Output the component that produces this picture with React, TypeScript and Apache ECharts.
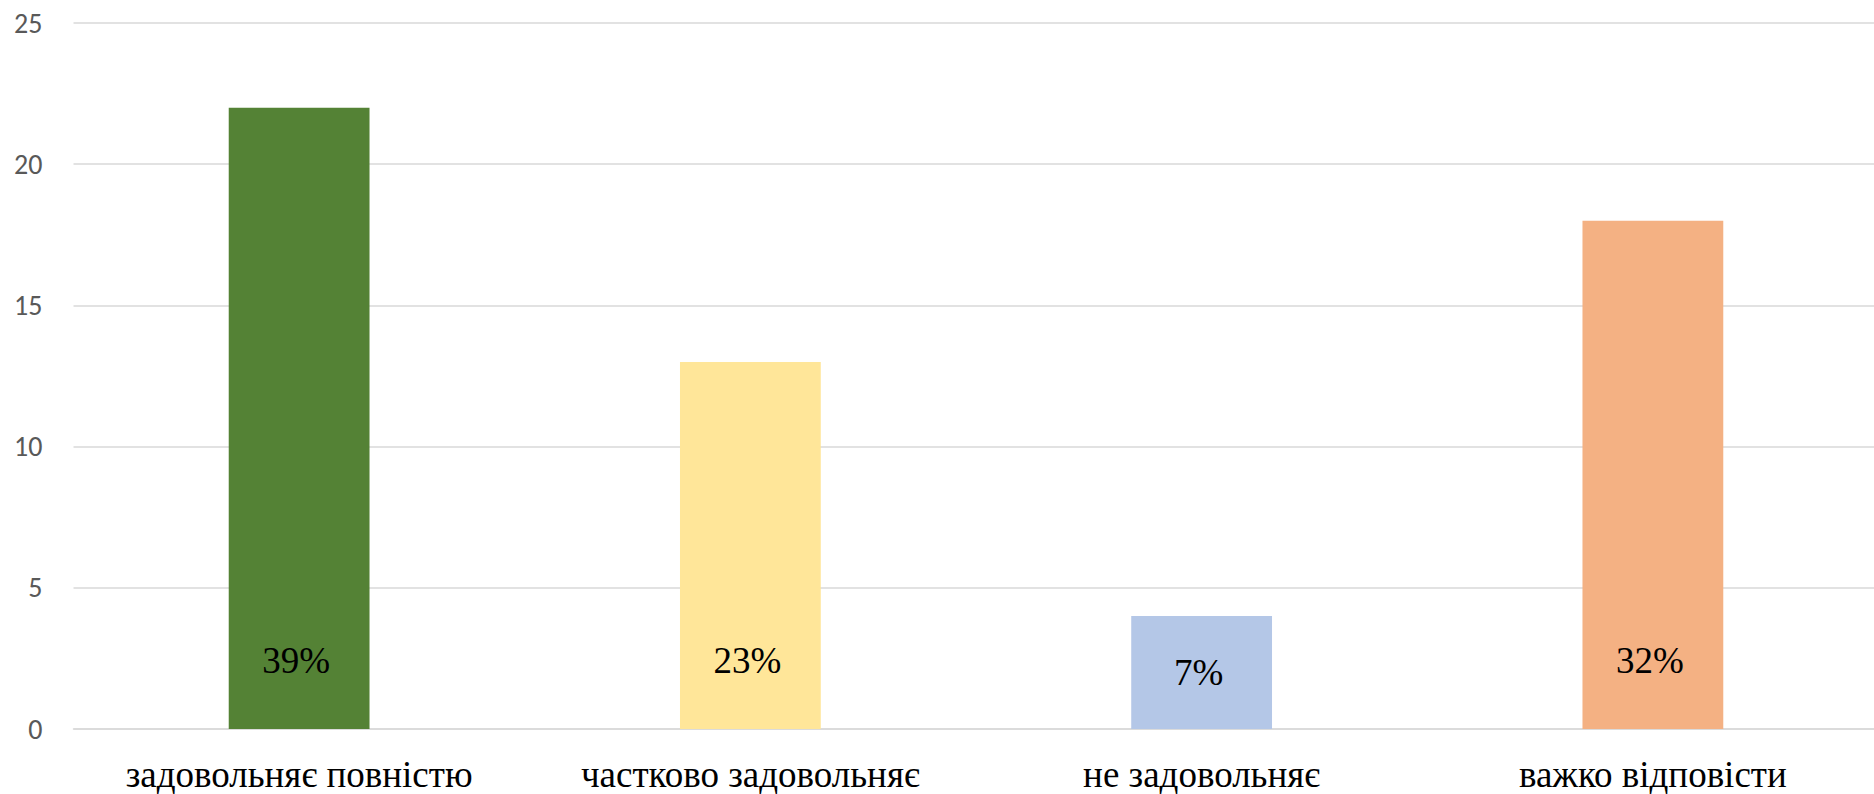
import React, { useEffect, useRef } from "react";
import * as echarts from "echarts";

const categories: string[] = [
  "задовольняє повністю",
  "частково задовольняє",
  "не задовольняє",
  "важко відповісти",
];
const values: number[] = [22, 13, 4, 18];
const percentLabels: string[] = ["39%", "23%", "7%", "32%"];
const barColors: string[] = ["#548235", "#FFE699", "#B4C7E7", "#F4B183"];
const yTicks = { min: 0, max: 25, interval: 5 };

export default function App() {
  const ref = useRef<HTMLDivElement>(null);
  useEffect(() => {
    if (!ref.current) return;
    const chart = echarts.init(ref.current, undefined, { renderer: "svg" });
    const data = values.map((v, i) => ({
      value: v,
      itemStyle: { color: barColors[i] },
      label:
        v < 8
          ? { position: "inside" as const }
          : { position: "insideBottom" as const, distance: 50 },
    }));
    chart.setOption({
      animation: false,
      backgroundColor: "#ffffff",
      grid: {
        left: 73.5,
        top: 23,
        bottom: 65,
        width: 1805,
        containLabel: false,
        outerBoundsMode: "none",
      },
      xAxis: {
        type: "category",
        data: categories,
        axisLine: { lineStyle: { color: "#D9D9D9", width: 1.5 } },
        axisTick: { show: false },
        axisLabel: {
          interval: 0,
          hideOverlap: false,
          fontFamily: "Liberation Serif, Times New Roman, serif",
          fontSize: 37,
          color: "#000000",
          margin: 27,
        },
      },
      yAxis: {
        type: "value",
        min: yTicks.min,
        max: yTicks.max,
        interval: yTicks.interval,
        axisLine: { show: false },
        axisTick: { show: false },
        splitLine: { lineStyle: { color: "#D9D9D9", width: 1.5 } },
        axisLabel: {
          fontFamily: "Carlito, Liberation Sans, Open Sans, sans-serif",
          fontSize: 28,
          color: "#595959",
          margin: 31,
        },
      },
      series: [
        {
          type: "bar",
          data,
          barWidth: "31.2%",
          label: {
            show: true,
            formatter: (p: any) => percentLabels[p.dataIndex],
            fontFamily: "Liberation Serif, Times New Roman, serif",
            fontSize: 37,
            color: "#000000",
            offset: [-3, 0],
          },
        },
      ],
    });
    return () => chart.dispose();
  }, []);
  return (
    <div
      ref={ref}
      style={{ position: "fixed", left: 0, top: 0, width: 1874, height: 794 }}
    />
  );
}
